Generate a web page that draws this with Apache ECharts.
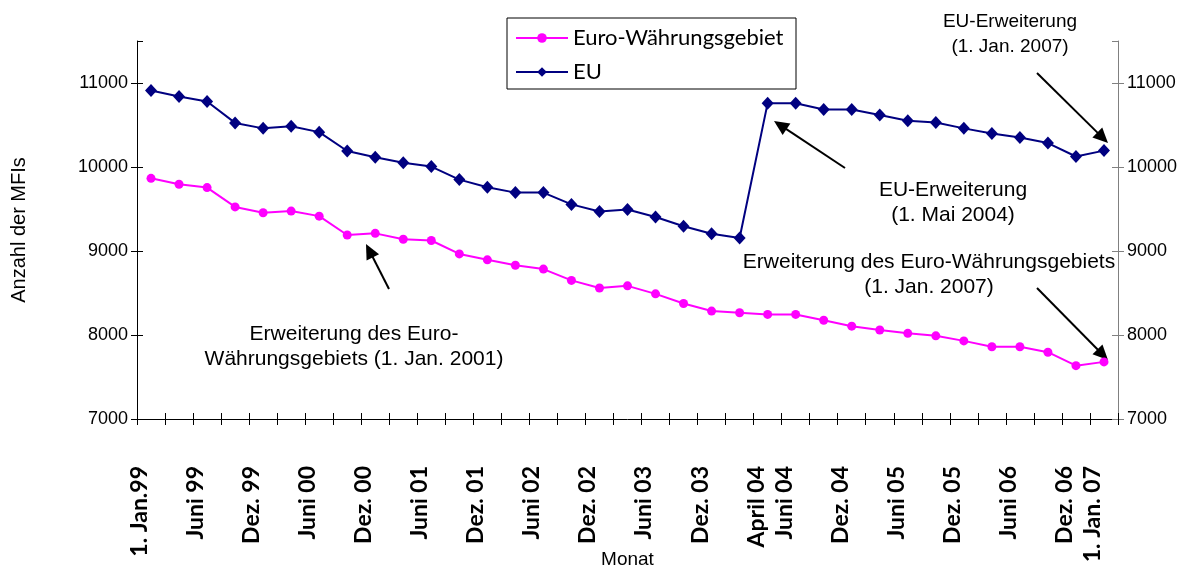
<!DOCTYPE html>
<html>
<head>
<meta charset="utf-8">
<script src="https://cdn.jsdelivr.net/npm/echarts@6/dist/echarts.min.js"></script>
<style>html,body{margin:0;padding:0;background:#fff;}#c{width:1196px;height:572px;}</style>
</head>
<body>
<div id="c"></div>
<script>
// Categories (quarterly observations); only some are labelled on the axis
var categories = ["1. Jan.99","März 99","Juni 99","Sep. 99","Dez. 99","März 00","Juni 00","Sep. 00","Dez. 00",
  "März 01","Juni 01","Sep. 01","Dez. 01","März 02","Juni 02","Sep. 02","Dez. 02","März 03","Juni 03","Sep. 03",
  "Dez. 03","März 04","April 04","Juni 04","Sep. 04","Dez. 04","März 05","Juni 05","Sep. 05","Dez. 05","März 06",
  "Juni 06","Sep. 06","Dez. 06","1. Jan. 07"];
var shownLabels = ["1. Jan.99","Juni 99","Dez. 99","Juni 00","Dez. 00","Juni 01","Dez. 01","Juni 02","Dez. 02",
  "Juni 03","Dez. 03","April 04","Juni 04","Dez. 04","Juni 05","Dez. 05","Juni 06","Dez. 06","1. Jan. 07"];
var euroArea = [9865,9795,9755,9525,9455,9475,9415,9190,9210,9140,9125,8965,8895,8830,8785,8650,8560,8585,8490,
  8375,8285,8265,8245,8245,8175,8105,8060,8020,7990,7930,7860,7860,7795,7635,7680];
var eu = [10910,10840,10780,10525,10460,10485,10415,10190,10115,10050,10005,9850,9760,9695,9695,9555,9470,9495,
  9405,9295,9205,9155,10760,10760,10685,10685,10620,10550,10530,10460,10400,10350,10285,10125,10195];
var yTicks = {min: 7000, max: 11500, interval: 1000};

var ARIAL = "'Liberation Sans', Arial, sans-serif";
var GILL = "Lato, 'Noto Sans', sans-serif";

function arrow(x1, y1, x2, y2) {
  var dx = x2 - x1, dy = y2 - y1, len = Math.sqrt(dx*dx + dy*dy);
  var ux = dx/len, uy = dy/len, hl = 15, hw = 7;
  var bx = x2 - ux*hl, by = y2 - uy*hl;
  return [
    {type: 'line', shape: {x1: x1, y1: y1, x2: bx + ux*2, y2: by + uy*2}, style: {stroke: '#000', lineWidth: 2}},
    {type: 'polygon', shape: {points: [[x2, y2], [bx - uy*hw, by + ux*hw], [bx + uy*hw, by - ux*hw]]}, style: {fill: '#000'}}
  ];
}
function note(x, y, txt, size) {
  return {type: 'text', x: x, y: y, style: {text: txt, font: size + "px " + ARIAL, fill: '#000', align: 'center', verticalAlign: 'middle', lineHeight: 25}};
}
function plain(v) { return String(v); }

var chart = echarts.init(document.getElementById('c'));
var yBase = {type: 'value', min: yTicks.min, max: yTicks.max, interval: yTicks.interval, splitLine: {show: false}};
chart.setOption({
  animation: false,
  backgroundColor: '#fff',
  grid: {left: 137, right: 78, top: 41, bottom: 153, containLabel: false, outerBoundsMode: 'none'},
  legend: {
    orient: 'vertical', left: 507, top: 18,
    padding: [8, 10, 5, 8], itemGap: 10, itemWidth: 52, itemHeight: 12,
    borderColor: '#000', borderWidth: 1, backgroundColor: '#fff',
    textStyle: {fontFamily: GILL, fontSize: 22, color: '#000', lineHeight: 24, width: 213},
    data: ['Euro-Währungsgebiet', 'EU']
  },
  xAxis: [{
    type: 'category', data: categories, boundaryGap: true,
    name: 'Monat', nameLocation: 'middle', nameGap: 131, nameMoveOverlap: false,
    nameTextStyle: {fontFamily: ARIAL, fontSize: 19, color: '#000'},
    axisLine: {lineStyle: {color: '#000', width: 1}},
    axisTick: {show: true, interval: 0, length: 6, lineStyle: {color: '#000'}},
    axisLabel: {
      interval: function (i, v) { return shownLabels.indexOf(v) >= 0; },
      rotate: 90, margin: 47, fontFamily: GILL, fontWeight: 'bold', fontSize: 23, color: '#000',
      verticalAlign: 'bottom'
    }
  }, {
    type: 'category', data: categories, boundaryGap: true, position: 'bottom',
    axisLine: {show: false}, axisLabel: {show: false},
    axisTick: {show: true, inside: true, interval: 0, length: 6, lineStyle: {color: '#000'}}
  }],
  yAxis: [
    Object.assign({}, yBase, {
      position: 'left', name: 'Anzahl der MFIs', nameLocation: 'middle', nameGap: 108,
      nameTextStyle: {fontFamily: ARIAL, fontSize: 20, color: '#000'},
      axisLine: {show: true, lineStyle: {color: '#000'}},
      axisTick: {show: true, length: 6, lineStyle: {color: '#000'}},
      axisLabel: {margin: 9, fontFamily: ARIAL, fontSize: 18, color: '#000', showMaxLabel: false, formatter: plain}
    }),
    Object.assign({}, yBase, {
      position: 'left', axisLine: {show: false}, axisLabel: {show: false},
      axisTick: {show: true, inside: true, length: 6, lineStyle: {color: '#000'}}
    }),
    Object.assign({}, yBase, {
      position: 'right',
      axisLine: {show: true, lineStyle: {color: '#808080'}},
      axisTick: {show: true, length: 6, lineStyle: {color: '#808080'}},
      axisLabel: {margin: 9, fontFamily: ARIAL, fontSize: 18, color: '#000', showMaxLabel: false, formatter: plain}
    }),
    Object.assign({}, yBase, {
      position: 'right', axisLine: {show: false}, axisLabel: {show: false},
      axisTick: {show: true, inside: true, length: 6, lineStyle: {color: '#808080'}}
    })
  ],
  series: [{
    name: 'Euro-Währungsgebiet', type: 'line', data: euroArea, yAxisIndex: 0,
    symbol: 'circle', symbolSize: 9, showAllSymbol: true,
    lineStyle: {color: '#FF00FF', width: 2}, itemStyle: {color: '#FF00FF'}
  }, {
    name: 'EU', type: 'line', data: eu, yAxisIndex: 0,
    symbol: 'diamond', symbolSize: [12, 13], showAllSymbol: true,
    lineStyle: {color: '#000080', width: 2}, itemStyle: {color: '#000080'}
  }],
  graphic: [].concat(
    arrow(389, 289, 366, 244),
    arrow(845, 168, 774, 121),
    arrow(1037, 73, 1108, 143),
    arrow(1037, 288, 1108, 360),
    [
      note(354, 347, 'Erweiterung des Euro-\nWährungsgebiets (1. Jan. 2001)', 21),
      note(953, 203, 'EU-Erweiterung\n(1. Mai 2004)', 21),
      note(929, 275, 'Erweiterung des Euro-Währungsgebiets\n(1. Jan. 2007)', 21),
      note(1010, 34, 'EU-Erweiterung\n(1. Jan. 2007)', 19)
    ]
  )
});
</script>
</body>
</html>
